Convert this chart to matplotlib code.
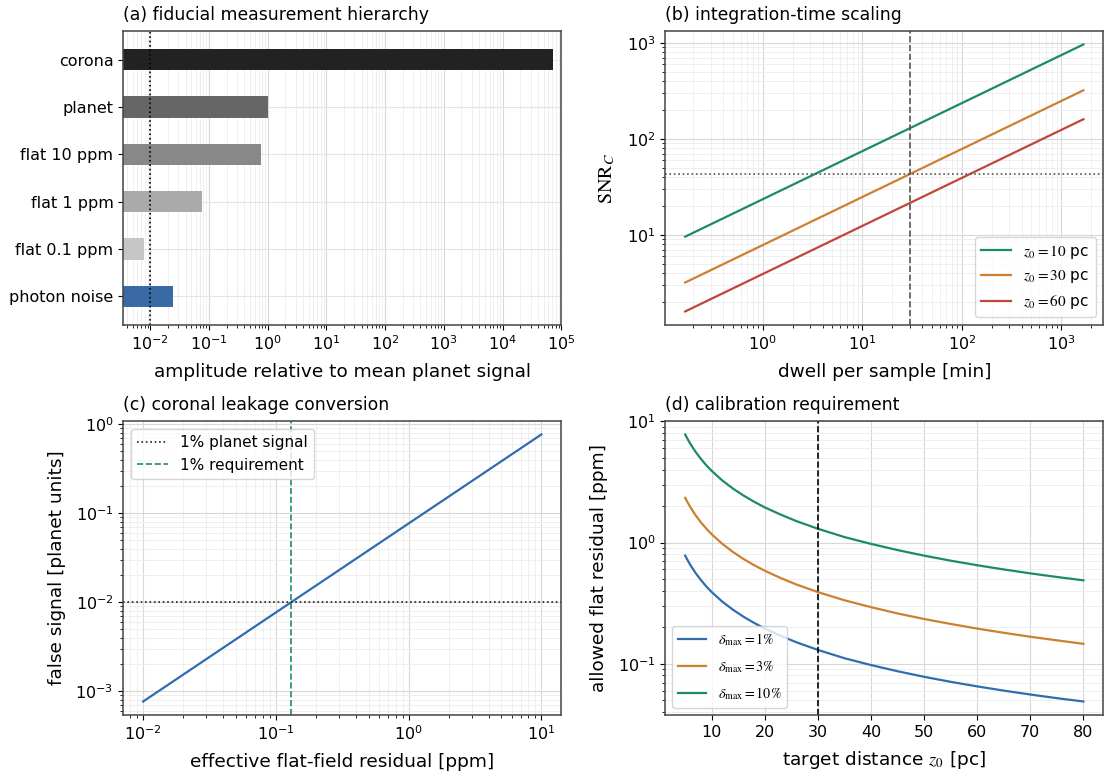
import numpy as np
import matplotlib
matplotlib.use('Agg')
import matplotlib.pyplot as plt

plt.rcParams['mathtext.fontset'] = 'stix'
plt.rcParams['axes.edgecolor'] = '#444444'
plt.rcParams['axes.linewidth'] = 1.1
plt.rcParams['axes.labelpad'] = 7
plt.rcParams['axes.titlepad'] = 8

# (a) measurement hierarchy
BAR_LABELS = ['corona', 'planet', 'flat 10 ppm', 'flat 1 ppm', 'flat 0.1 ppm', 'photon noise']
BAR_VALUES = [7.1e4, 1.0, 0.765, 0.0765, 0.00787, 0.0239]
BAR_COLORS = ['#222222', '#666666', '#888888', '#aaaaaa', '#c6c6c6', '#3a6aa6']

# (b) integration-time scaling
DWELL = [0.1667, 1667]
SNR = {10: [9.6, 960], 30: [3.2, 320], 60: [1.6, 160]}
SNR_TARGET = 43.5
DWELL_FID = 30

# (c) coronal leakage conversion
FLAT_RES = [0.01, 10]
FALSE_SIG = [7.66e-4, 0.766]
FLAT_REQ = 0.1305

# (d) calibration requirement
DIST = [5, 5.5, 6, 7, 8, 9, 10, 12, 14, 16, 18, 20, 23, 26, 30, 35, 40, 45, 50, 55, 60, 65, 70, 75, 80]
ALLOW_1 = [0.78, 0.709, 0.65, 0.557, 0.488, 0.433, 0.39, 0.325, 0.279, 0.244, 0.217, 0.195,
           0.170, 0.150, 0.130, 0.111, 0.0975, 0.0867, 0.078, 0.0709, 0.065, 0.060, 0.0557, 0.052, 0.0488]
ALLOW_3 = [2.34, 2.13, 1.95, 1.67, 1.46, 1.30, 1.17, 0.975, 0.836, 0.731, 0.65, 0.585,
           0.509, 0.45, 0.39, 0.334, 0.293, 0.26, 0.234, 0.213, 0.195, 0.18, 0.167, 0.156, 0.146]
ALLOW_10 = [7.8, 7.09, 6.5, 5.57, 4.88, 4.33, 3.9, 3.25, 2.79, 2.44, 2.17, 1.95,
            1.70, 1.50, 1.30, 1.11, 0.975, 0.867, 0.78, 0.709, 0.65, 0.60, 0.557, 0.52, 0.488]

GREEN = '#1b8a6b'
ORANGE = '#cc8030'
RED = '#c0463c'
BLUE = '#2f6db0'

LABEL_FS = 13.3
TITLE_FS = 12.4


def style(ax):
    ax.grid(which='major', color='#d8d8d8', linewidth=0.8)
    ax.grid(which='minor', color='#ececec', linewidth=0.6)
    ax.set_axisbelow(True)
    ax.tick_params(labelsize=11.5)


fig, axes = plt.subplots(2, 2, figsize=(11.1, 7.77), dpi=100)
fig.subplots_adjust(left=0.111, right=0.994, top=0.960, bottom=0.080,
                    wspace=0.2375, hspace=0.328)
ax_a, ax_b = axes[0]
ax_c, ax_d = axes[1]

# (a)
y = np.arange(len(BAR_LABELS))[::-1]
ax_a.barh(y, BAR_VALUES, height=0.45, color=BAR_COLORS, left=1e-4)
ax_a.set_xscale('log')
ax_a.set_xlim(3.47e-3, 1.0e5)
ax_a.set_ylim(-0.6, 5.6)
ax_a.set_yticks(y)
ax_a.set_yticklabels(BAR_LABELS)
ax_a.axvline(0.01, color='black', linestyle=':', linewidth=1.2)
ax_a.set_xlabel('amplitude relative to mean planet signal', fontsize=LABEL_FS)
ax_a.set_title('(a) fiducial measurement hierarchy', loc='left', fontsize=TITLE_FS)
style(ax_a)
ax_a.grid(which='major', axis='y', color='#e4e4e4')
ax_a.grid(which='minor', axis='y', visible=False)

# (b)
for z, col in zip([10, 30, 60], [GREEN, ORANGE, RED]):
    ax_b.plot(DWELL, SNR[z], color=col, linewidth=1.6, label=r'$z_0 = %d$ pc' % z)
ax_b.set_xscale('log')
ax_b.set_yscale('log')
ax_b.axvline(DWELL_FID, color='#555555', linestyle='--', linewidth=1.2)
ax_b.axhline(SNR_TARGET, color='#555555', linestyle=':', linewidth=1.2)
ax_b.set_xlabel('dwell per sample [min]', fontsize=LABEL_FS)
ax_b.set_ylabel(r'$\mathrm{SNR}_C$', fontsize=14.5)
ax_b.set_title('(b) integration-time scaling', loc='left', fontsize=TITLE_FS)
ax_b.legend(loc='lower right', fontsize=11)
style(ax_b)

# (c)
ax_c.plot(FLAT_RES, FALSE_SIG, color=BLUE, linewidth=1.6)
ax_c.set_xscale('log')
ax_c.set_yscale('log')
ax_c.axhline(0.01, color='#222222', linestyle=':', linewidth=1.2, label='1% planet signal')
ax_c.axvline(FLAT_REQ, color=GREEN, linestyle='--', linewidth=1.2, label='1% requirement')
ax_c.set_xlabel('effective flat-field residual [ppm]', fontsize=LABEL_FS)
ax_c.set_ylabel('false signal [planet units]', fontsize=LABEL_FS)
ax_c.set_title('(c) coronal leakage conversion', loc='left', fontsize=TITLE_FS)
ax_c.legend(loc='upper left', fontsize=11)
style(ax_c)

# (d)
ax_d.plot(DIST, ALLOW_1, color=BLUE, linewidth=1.6, label=r'$\delta_{\max} = 1\%$')
ax_d.plot(DIST, ALLOW_3, color=ORANGE, linewidth=1.6, label=r'$\delta_{\max} = 3\%$')
ax_d.plot(DIST, ALLOW_10, color=GREEN, linewidth=1.6, label=r'$\delta_{\max} = 10\%$')
ax_d.set_yscale('log')
ax_d.axvline(30, color='black', linestyle='--', linewidth=1.2)
ax_d.set_xlabel(r'target distance $z_0$ [pc]', fontsize=LABEL_FS)
ax_d.set_ylabel('allowed flat residual [ppm]', fontsize=LABEL_FS)
ax_d.set_title('(d) calibration requirement', loc='left', fontsize=TITLE_FS)
ax_d.legend(loc='lower left', fontsize=10.2, handlelength=2.0, labelspacing=0.75)
style(ax_d)

fig.savefig('out.png', dpi=100)
